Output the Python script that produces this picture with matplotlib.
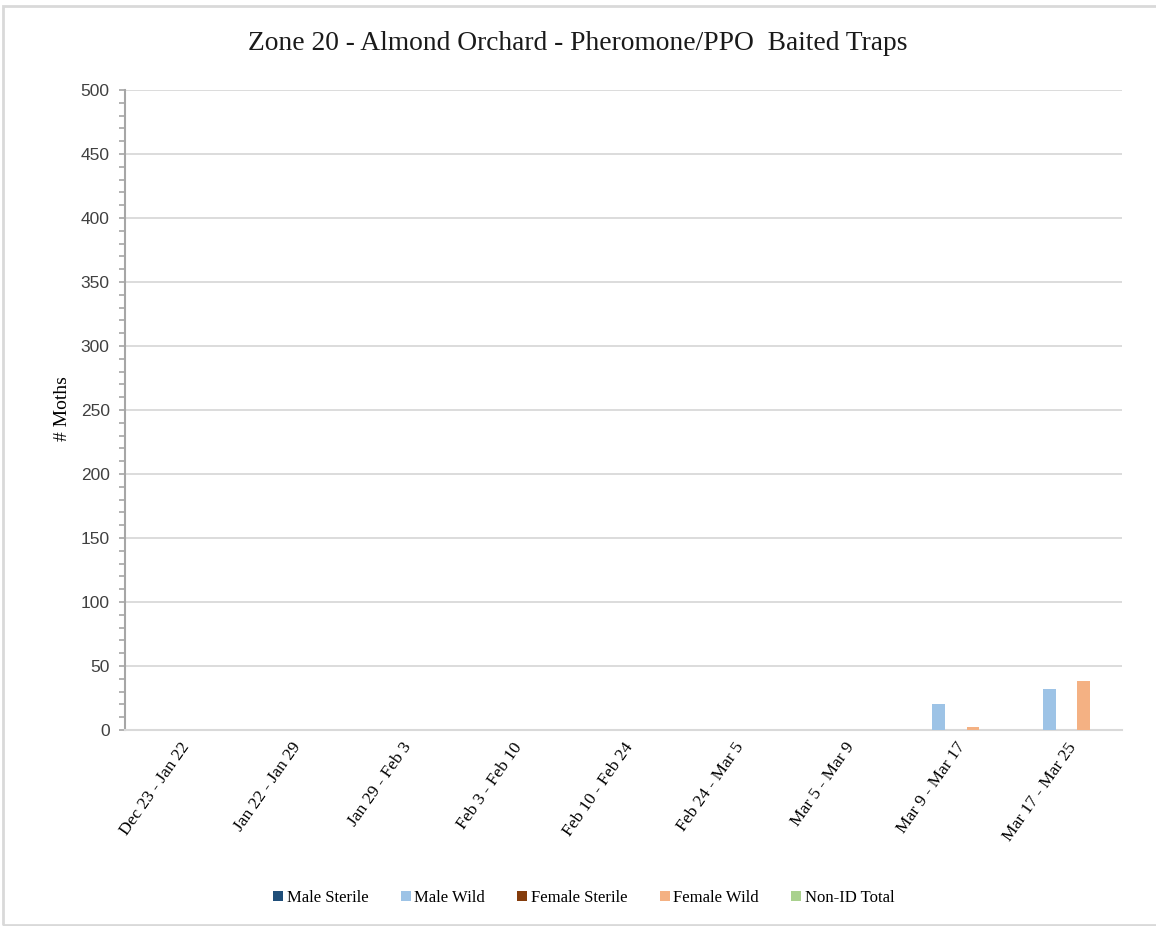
import matplotlib
matplotlib.use("Agg")
import matplotlib.pyplot as plt
from matplotlib.patches import Rectangle
from matplotlib.ticker import MultipleLocator
import numpy as np

# data
weeks = ["Dec 23 - Jan 22", "Jan 22 - Jan 29", "Jan 29 - Feb 3", "Feb 3 - Feb 10",
         "Feb 10 - Feb 24", "Feb 24 - Mar 5", "Mar 5 - Mar 9", "Mar 9 - Mar 17",
         "Mar 17 - Mar 25"]
male_sterile = [0, 0, 0, 0, 0, 0, 0, 0, 0]
male_wild = [0, 0, 0, 0, 0, 0, 0, 20, 32]
female_sterile = [0, 0, 0, 0, 0, 0, 0, 0, 0]
female_wild = [0, 0, 0, 0, 0, 0, 0, 2, 38]
non_id_total = [0, 0, 0, 0, 0, 0, 0, 0, 0]

series_names = ["Male Sterile", "Male Wild", "Female Sterile", "Female Wild", "Non-ID Total"]
series_colors = ["#1f4e79", "#9dc3e6", "#843c0c", "#f4b183", "#a9d18e"]

serif = "Liberation Serif"
sans = "Liberation Sans"

fig = plt.figure(figsize=(11.56, 9.26), dpi=100)
fig.patch.set_facecolor("white")
# thin gray frame around the chart area
fig.patches.append(Rectangle((3 / 1156, 1 / 926), 1.1, 919 / 926, transform=fig.transFigure,
                             fill=False, edgecolor="#d9d9d9", linewidth=2))

ax = fig.add_axes([125 / 1156, 1 - 730 / 926, 997 / 1156, 640 / 926])

x = np.arange(len(weeks))
step = 0.155
width = 0.115
all_series = [male_sterile, male_wild, female_sterile, female_wild, non_id_total]
for i, (vals, name, col) in enumerate(zip(all_series, series_names, series_colors)):
    ax.bar(x + (i - 2) * step, vals, width=width, color=col, label=name, zorder=3)

ax.set_xlim(-0.5, len(weeks) - 0.5)
ax.set_ylim(0, 500)
ax.yaxis.set_major_locator(MultipleLocator(50))
ax.yaxis.set_minor_locator(MultipleLocator(10))
ax.grid(axis="y", which="major", color="#d9d9d9", linewidth=1.3, zorder=0)

for s in ["top", "right"]:
    ax.spines[s].set_visible(False)
ax.spines["left"].set_color("#a6a6a6")
ax.spines["left"].set_linewidth(1.5)
ax.spines["bottom"].set_color("#d9d9d9")
ax.spines["bottom"].set_linewidth(1.5)

ax.tick_params(axis="y", which="both", direction="out", length=4, width=1.2,
               color="#a6a6a6", labelsize=12.5, pad=7)
ax.tick_params(axis="x", which="both", length=0, pad=7)
for lbl in ax.get_yticklabels():
    lbl.set_fontfamily(sans)
    lbl.set_color("#404040")

ax.set_xticks(x)
ax.set_xticklabels(weeks, rotation=55, ha="right", rotation_mode="anchor",
                   fontfamily=serif, fontsize=12.5)

ax.set_ylabel("# Moths", fontfamily=serif, fontsize=14)
ax.yaxis.set_label_coords(-0.054, 0.503)

fig.text(0.5, 1 - 43 / 926, "Zone 20 - Almond Orchard - Pheromone/PPO  Baited Traps",
         ha="center", va="center", fontfamily=serif, fontsize=19.8, color="#1a1a1a")

leg = fig.legend(loc="center", bbox_to_anchor=(0.505, 1 - 898 / 926), ncol=5, frameon=False,
                 prop={"family": serif, "size": 12}, handlelength=0.6, handleheight=0.6,
                 handletextpad=0.2, columnspacing=1.95)

fig.savefig("out.png", dpi=100, facecolor="white")
